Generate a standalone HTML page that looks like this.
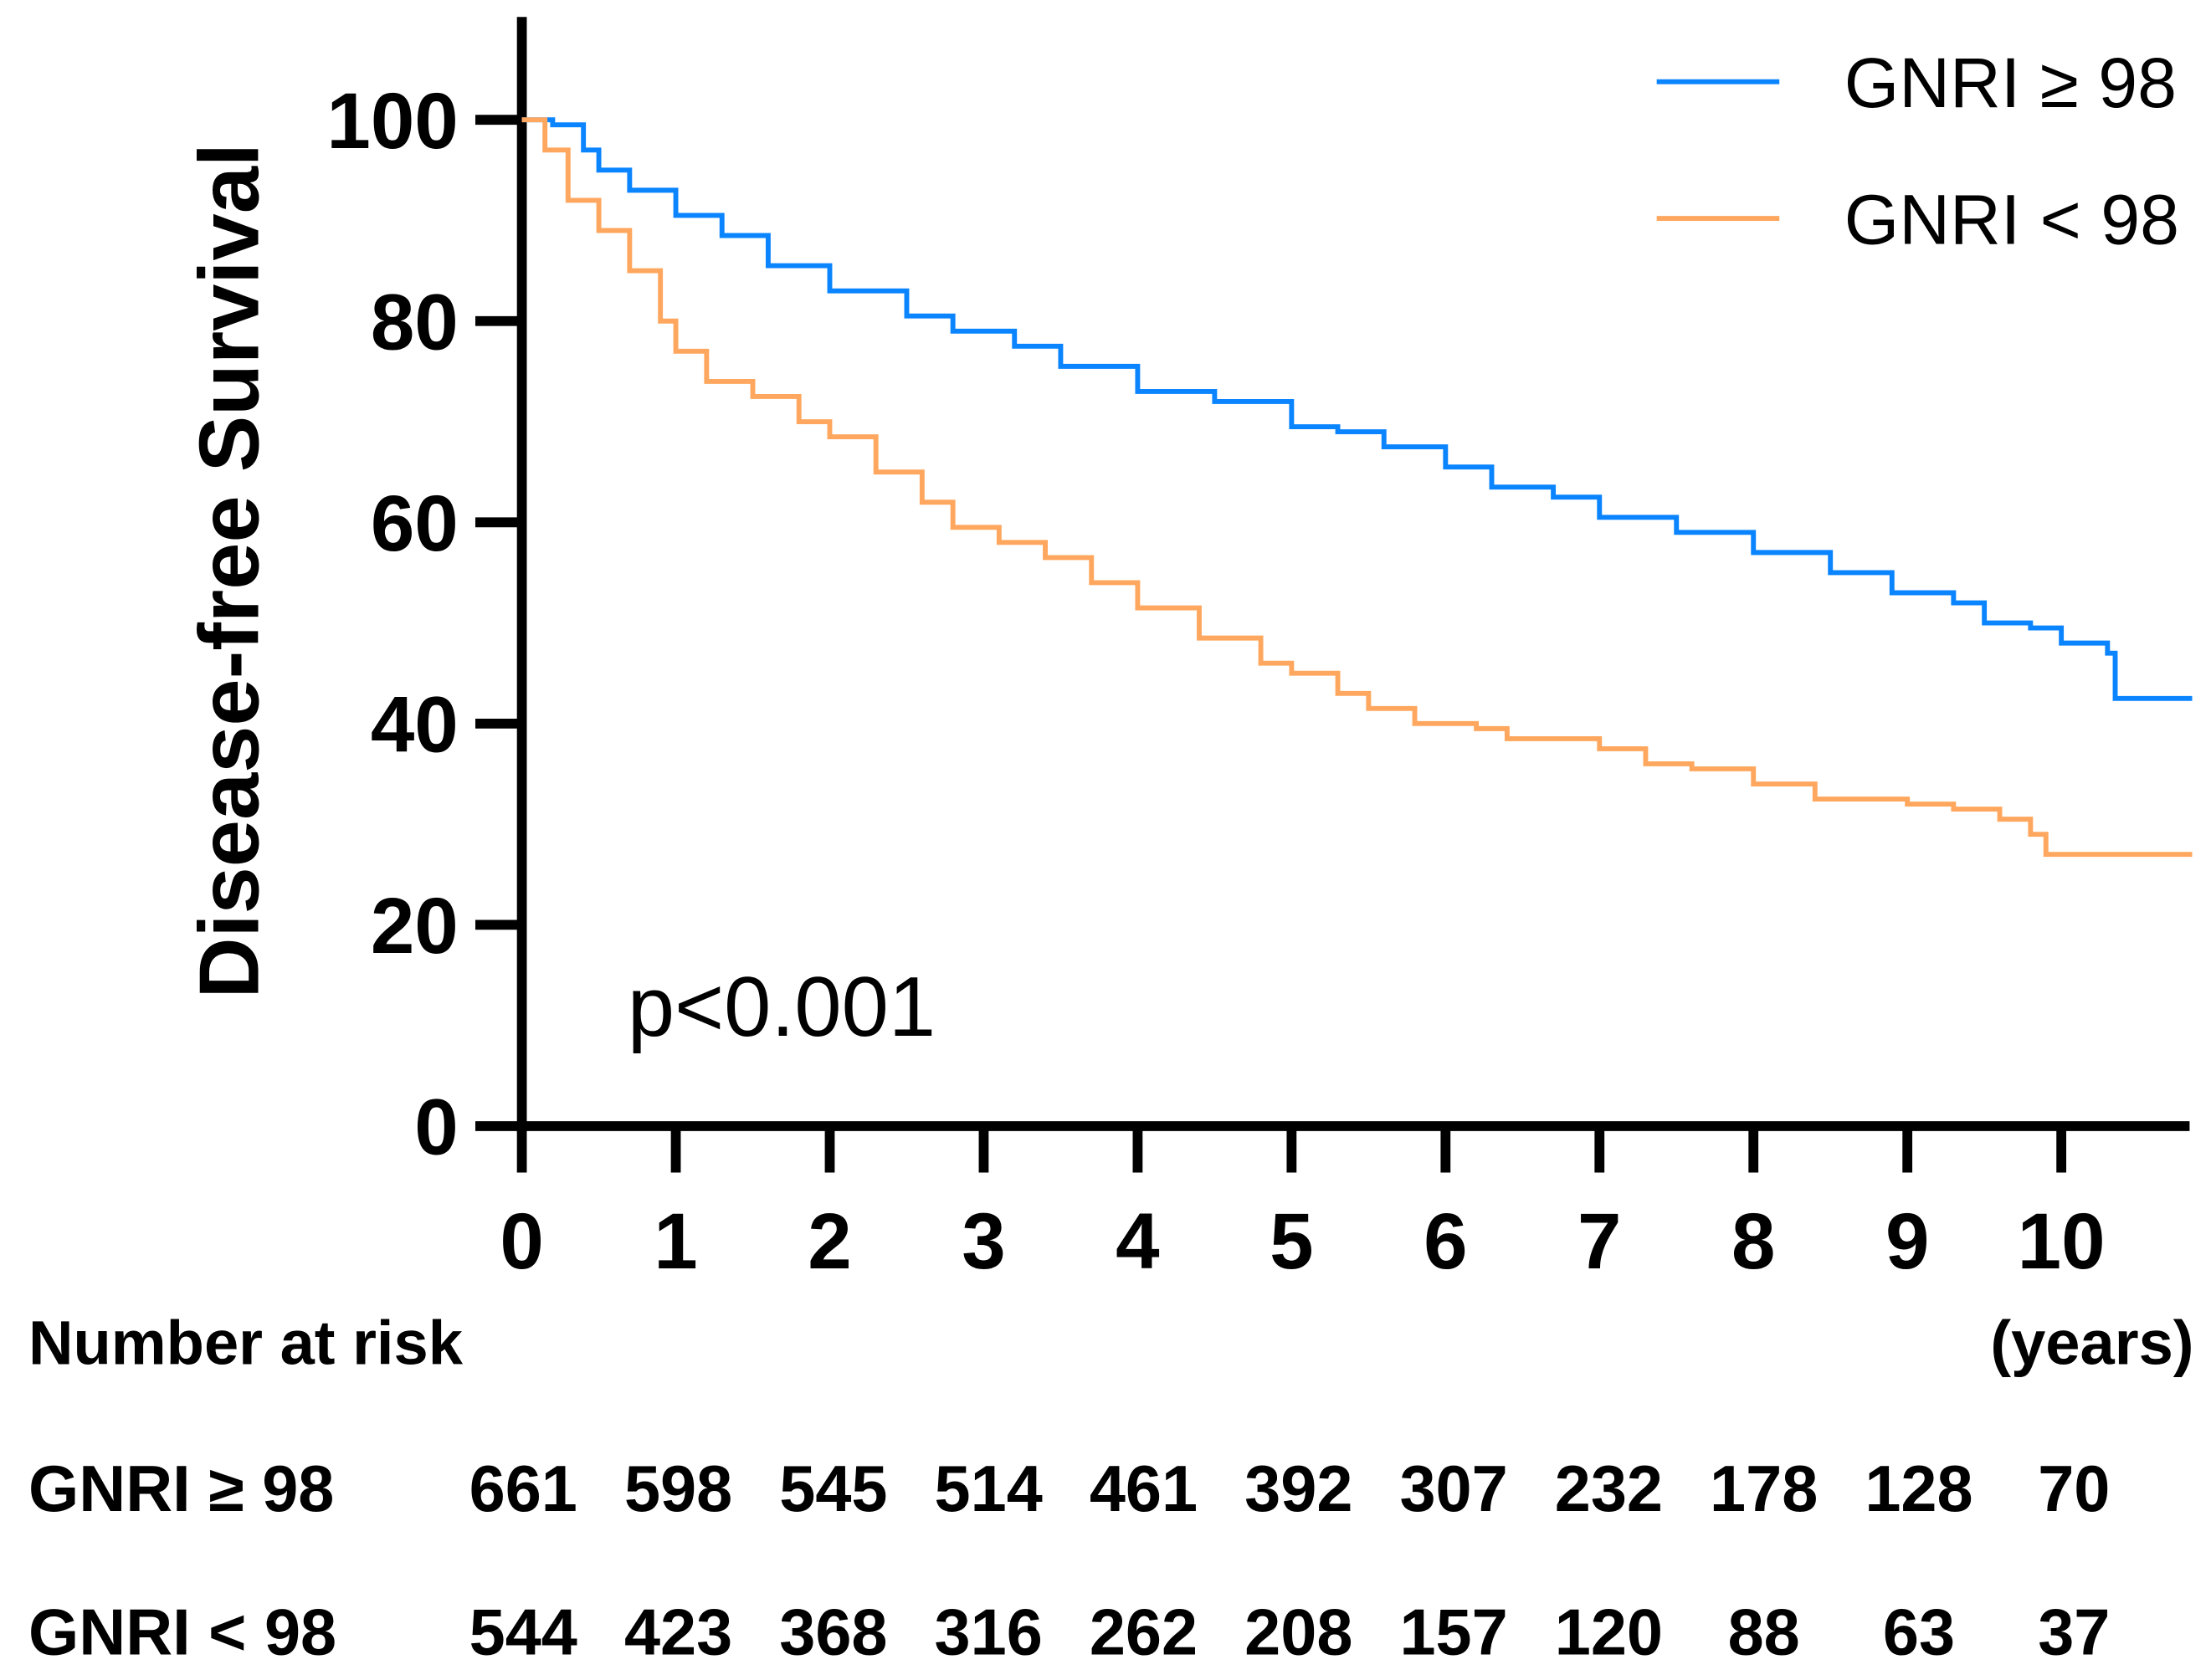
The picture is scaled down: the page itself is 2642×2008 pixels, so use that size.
<!DOCTYPE html>
<html><head><meta charset="utf-8"><style>
html,body{margin:0;padding:0;background:#fff}
svg{display:block}
text{font-family:"Liberation Sans",Arial,sans-serif}
</style></head><body>
<svg id="chart" width="2642" height="2008" viewBox="0 0 1568 1192" xmlns="http://www.w3.org/2000/svg">
<g id="axes"></g>
<g id="curves"></g>
<text transform="translate(183,405) rotate(-90)" text-anchor="middle" font-size="60" font-weight="bold">Disease-free Survival</text>
<text x="445" y="735" font-size="60">p&lt;0.001</text>
<g>
<line x1="1175" y1="58" x2="1262" y2="58" stroke="#0a84ff" stroke-width="3.5"/>
<text x="1308" y="76" font-size="50">GNRI ≥ 98</text>
<line x1="1175" y1="155" x2="1262" y2="155" stroke="#ffa75e" stroke-width="3.5"/>
<text x="1308" y="173" font-size="50">GNRI &lt; 98</text>
</g>
<text x="20" y="968" font-size="44" font-weight="bold">Number at risk</text>
<text x="1556" y="968" font-size="44" font-weight="bold" text-anchor="end">(years)</text>
<g id="risk" font-size="46" font-weight="bold"></g>
</svg>
<script>
const years=[0,1,2,3,4,5,6,7,8,9,10];
const yTicks=[0,20,40,60,80,100];
const highT=[0,0.2,0.4,0.5,0.7,1,1.3,1.6,2,2.5,2.8,3.2,3.5,4,4.5,5,5.3,5.6,6,6.3,6.7,7,7.5,8,8.5,8.9,9.3,9.5,9.8,10,10.3,10.35,10.85];
const highS=[100,99.5,97,95,93,90.5,88.5,85.5,83,80.5,79,77.5,75.5,73,72,69.5,69,67.5,65.5,63.5,62.5,60.5,59,57,55,53,52,50,49.5,48,47,42.5,42.5];
const lowT=[0,0.15,0.3,0.5,0.7,0.9,1,1.2,1.5,1.8,2,2.3,2.6,2.8,3.1,3.4,3.7,4,4.4,4.8,5,5.3,5.5,5.8,6.2,6.4,7,7.3,7.6,8,8.4,9,9.3,9.6,9.8,9.9,10.85];
const lowS=[100,97,92,89,85,80,77,74,72.5,70,68.5,65,62,59.5,58,56.5,54,51.5,48.5,46,45,43,41.5,40,39.5,38.5,37.5,36,35.5,34,32.5,32,31.5,30.5,29,27,27];
const riskHigh=[661,598,545,514,461,392,307,232,178,128,70];
const riskLow=[544,423,368,316,262,208,157,120,88,63,37];
const NS="http://www.w3.org/2000/svg";
const X=t=>370+t*109.2, Y=v=>799-v*7.14;
function mk(tag,attrs,parent){const e=document.createElementNS(NS,tag);for(const k in attrs)e.setAttribute(k,attrs[k]);parent.appendChild(e);return e;}
const ax=document.getElementById('axes');
let yl=mk('line',{x1:370,y1:12,x2:370,y2:803,stroke:'#000','stroke-width':7},ax);


let xl=mk('line',{x1:367,y1:799,x2:1553,y2:799,stroke:'#000','stroke-width':7},ax);


yTicks.forEach(v=>{
 let t=mk('line',{x1:337,y1:Y(v),x2:370,y2:Y(v),stroke:'#000','stroke-width':7},ax);
 
 
 let l=mk('text',{x:325,y:Y(v)+20,'text-anchor':'end','font-size':56,'font-weight':'bold'},ax);
 l.textContent=v;
 
 
});
years.forEach(v=>{
 let t=mk('line',{x1:X(v),y1:799,x2:X(v),y2:832,stroke:'#000','stroke-width':7},ax);
 
 
 let l=mk('text',{x:X(v),y:900,'text-anchor':'middle','font-size':56,'font-weight':'bold'},ax);
 l.textContent=v;
 
 
});
function step(T,S){let d='M'+X(T[0])+' '+Y(S[0]);for(let i=1;i<T.length;i++){d+=' H'+X(T[i])+' V'+Y(S[i]);}return d;}
const cv=document.getElementById('curves');
let ph=mk('path',{d:step(highT,highS),fill:'none',stroke:'#0a84ff','stroke-width':3.5},cv);


let pl=mk('path',{d:step(lowT,lowS),fill:'none',stroke:'#ffa75e','stroke-width':3.5},cv);


const rk=document.getElementById('risk');
[["GNRI ≥ 98",riskHigh,1072],["GNRI < 98",riskLow,1174]].forEach(([lab,arr,y])=>{
 let l=mk('text',{x:20,y:y},rk);
 l.textContent=lab;
 
 
 arr.forEach((n,i)=>{
  let t=mk('text',{x:X(years[i])+i*0.8+1,y:y,'text-anchor':'middle'},rk);
  t.textContent=n;
  
  
 });
});
</script>
</body></html>
